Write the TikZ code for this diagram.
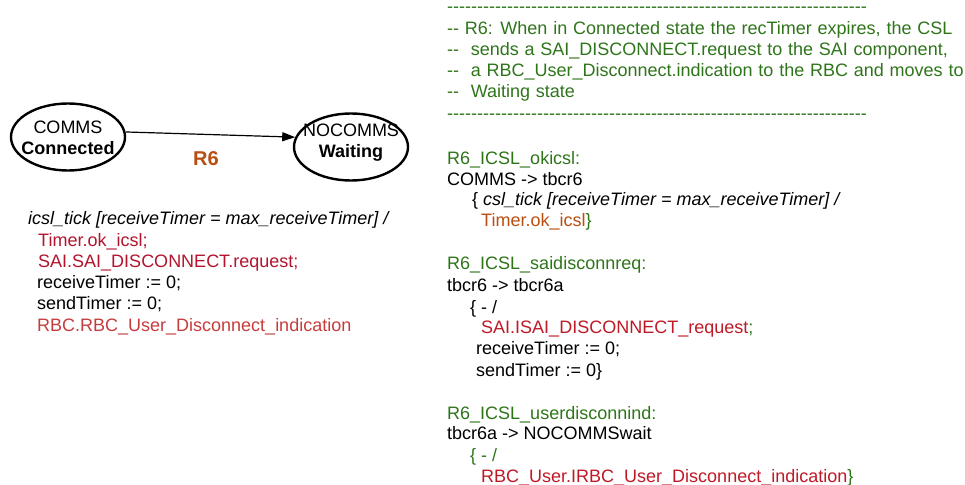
\documentclass[tikz,border=0pt]{standalone}
\usepackage{fontspec}
\setmainfont{Liberation Sans}[Ligatures=TeXOff]
\usetikzlibrary{arrows.meta,shapes.geometric}
\definecolor{cgreen}{RGB}{46,117,26}
\definecolor{ccrim}{RGB}{178,20,45}
\definecolor{clred}{RGB}{198,60,60}
\definecolor{corange}{RGB}{184,78,16}
\definecolor{cred}{RGB}{190,25,38}
\newcommand{\dashrow}{\smash{----------------------------------------------------------------------}}
\newcommand{\cmtfont}{\fontsize{18}{21}\selectfont\spaceskip 5.8pt plus 1pt\relax}
\begin{document}
\begin{tikzpicture}[x=1pt,y=-1pt,
  txt/.style={anchor=base west,inner sep=0pt,font=\fontsize{18}{21}\selectfont},
  cmt/.style={anchor=base west,inner sep=0pt,text=cgreen,font=\cmtfont},
  state/.style={draw,ellipse,line width=2.4pt,minimum width=114pt,minimum height=67pt,inner sep=0pt},
  stxt/.style={inner sep=0pt,align=center,font=\fontsize{18}{21}\selectfont},
  trans/.style={line width=1.2pt,-{Triangle[length=13pt,width=9pt]}}]
\useasboundingbox (0,0) rectangle (965,484);
% states
\node[state] (l) at (68,137) {};
\node[stxt] (lt) at (68,138) {COMMS\\\textbf{Connected}};
\node[state] (r) at (351,147) {};
\node[stxt] (rt) at (351,143) {NOCOMMS\\\textbf{Waiting}};
\draw[trans] (l.5) -- (r.170);
\node[inner sep=0pt,font=\fontsize{20}{24}\selectfont\bfseries,text=corange] (lab) at (206,159) {R6};
% left block
\node[txt] (l1) at (28,224) {\itshape icsl\_tick [receiveTimer = max\_receiveTimer] /};
\node[txt,text=ccrim] (l2) at (38,246) {Timer.ok\_icsl;};
\node[txt,text=ccrim] (l3) at (38,267) {SAI.SAI\_DISCONNECT.request;};
\node[txt] (l4) at (37,288) {receiveTimer := 0;};
\node[txt] (l5) at (37,309) {sendTimer := 0;};
\node[txt,text=clred] (l6) at (37,331) {RBC.RBC\_User\_Disconnect\_indication};
% right comment block
\node[cmt] (d1) at (447,13) {\dashrow};
\node[cmt] (c1) at (447,35) {-- R6: When in Connected state the recTimer expires, the CSL};
\node[cmt] (c2) at (447,56) {--\ \ sends a SAI\_DISCONNECT.request to the SAI component,};
\node[cmt] (c3) at (447,77) {--\ \ a RBC\_User\_Disconnect.indication to the RBC and moves to};
\node[cmt] (c4) at (447,98) {--\ \ Waiting state};
\node[cmt] (d2) at (447,120) {\dashrow};
% transition 1
\node[txt,text=cgreen] (g1) at (447,164) {R6\_ICSL\_okicsl:};
\node[txt] (g1a) at (447,185) {COMMS -> tbcr6};
\node[txt] (g1b) at (472,205) {\{ \itshape csl\_tick [receiveTimer = max\_receiveTimer] /};
\node[txt] (g1c) at (481,226) {\textcolor{corange}{Timer.ok\_icsl}\textcolor{cgreen}{\}}};
% transition 2
\node[txt,text=cgreen] (g2) at (447,269) {R6\_ICSL\_saidisconnreq:};
\node[txt] (g2a) at (447,291) {tbcr6 -> tbcr6a};
\node[txt] (g2b) at (470,313) {\{ - /};
\node[txt] (g2c) at (481,333) {\textcolor{cred}{SAI.ISAI\_DISCONNECT\_request}\textcolor{cgreen}{;}};
\node[txt] (g2d) at (476,354) {receiveTimer := 0;};
\node[txt] (g2e) at (476,376) {sendTimer := 0\}};
% transition 3
\node[txt,text=cgreen] (g3) at (447,419) {R6\_ICSL\_userdisconnind:};
\node[txt] (g3a) at (447,439) {tbcr6a -> NOCOMMSwait};
\node[txt,text=cgreen] (g3b) at (470,461) {\{ - /};
\node[txt] (g3c) at (481,482) {\textcolor{cred}{RBC\_User.IRBC\_User\_Disconnect\_indication}\textcolor{cgreen}{\}}};
\end{tikzpicture}
\end{document}
